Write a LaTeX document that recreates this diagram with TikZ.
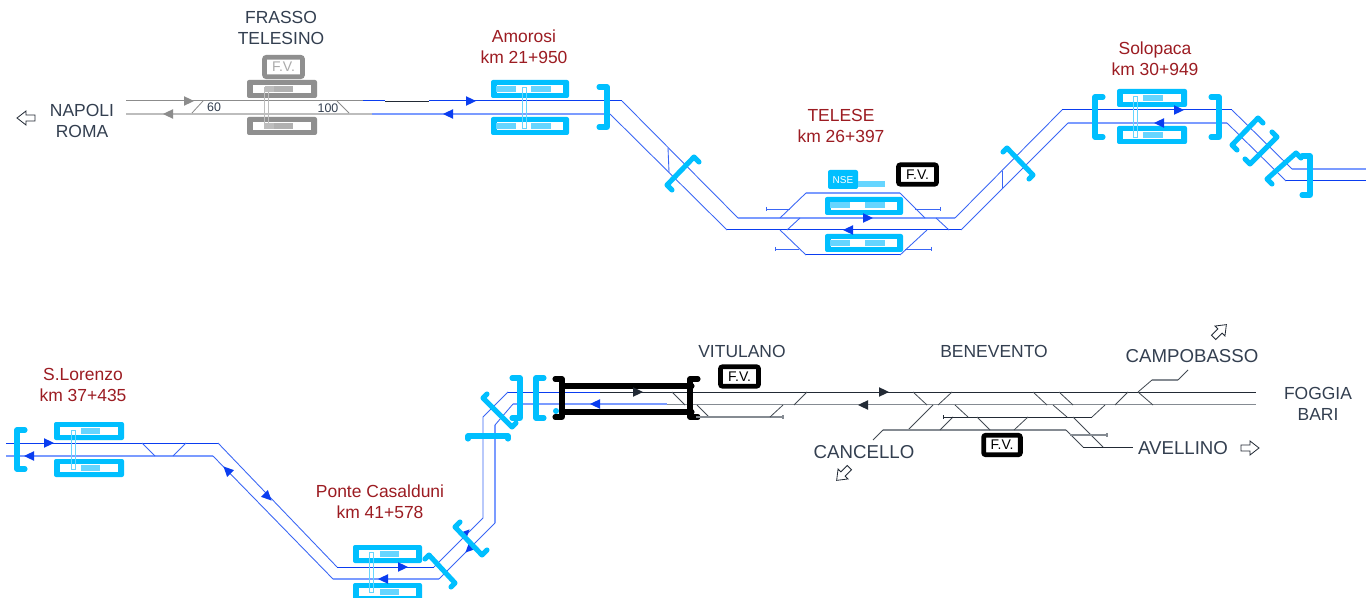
\documentclass[tikz,border=0pt]{standalone}
\usepackage{fontspec}
\setmainfont{Liberation Sans}
\definecolor{cy}{HTML}{00BFFF}
\definecolor{cyl}{HTML}{66D5FF}
\definecolor{dk}{HTML}{0A3DF0}
\definecolor{lt}{HTML}{7B9BFF}
\definecolor{thinb}{HTML}{3A66F5}
\definecolor{gr1}{HTML}{8C8C8C}
\definecolor{gr2}{HTML}{BDBDBD}
\definecolor{grb}{HTML}{8F8F8F}
\definecolor{blk}{HTML}{222A35}
\definecolor{blg}{HTML}{858B92}
\definecolor{txt}{HTML}{333F50}
\definecolor{red1}{HTML}{9C1C22}
\tikzset{
 lbl/.style={text=txt,align=center,font=\fontsize{13.1}{15.75}\selectfont,inner sep=0pt},
 lblb/.style={text=txt,align=center,font=\fontsize{14}{15.75}\selectfont,inner sep=0pt},
 km/.style={text=red1,align=center,font=\fontsize{13.1}{15.75}\selectfont,inner sep=0pt},
 small/.style={text=txt,font=\fontsize{9.3}{11}\selectfont,inner sep=0pt},
 tdk/.style={dk,line width=.75pt,line join=round},
 tlt/.style={lt,line width=1.3pt,line join=round},
 tthin/.style={color=thinb,line width=.65pt,line join=round},
 kdk/.style={blk,line width=.7pt,line join=round},
 kdi/.style={blk!85!white,line width=.6pt,line join=round},
 klt/.style={blg,line width=1.3pt,line join=round},
 brk/.style={cy,line width=3.8pt,line cap=round,line join=round},
 brb/.style={black,line width=3.8pt,line cap=round,line join=round},
 fvbox/.style={draw=black,line width=3.6pt,rounded corners=1.5pt,fill=white,text=black,font=\fontsize{10.5}{12}\selectfont,inner sep=0pt},
 hollow/.style={draw=blk,line width=.6pt,fill=white},
}
% block: colour, x1, x2, y1
\newcommand\blk[4]{\fill[#1,rounded corners=1.5pt] (#2,#4) rectangle (#3,#4+18);
 \fill[white] (#2+6,#4+5) rectangle (#3-6,#4+13);}
% rail pair
\newcommand\rails[4]{\draw[#1,line width=.7pt] (#2,#3) rectangle (#2+4,#4);}
% strip
\newcommand\strp[4]{\fill[#1] (#2,#4-2.8) rectangle (#3,#4+2.8);}
\newcommand\arw[4]{\fill[#4,shift={(#1,#2)},rotate=#3] (5,0)--(-5,4.8)--(-5,-4.8)--cycle;}
\newcommand\harw[3]{\draw[hollow,shift={(#1,#2)},rotate=#3] (-9,-3)--(0,-3)--(0,-7)--(9,0)--(0,7)--(0,3)--(-9,3)--cycle;}
\newcommand\brkt[7][brk]{\draw[#1] (#2+#6,#3+#7)--(#2,#3)--(#4,#5)--(#4+#6,#5+#7);}
\newcommand\stub[4]{\draw[#1,line width=.7pt] (#2,#4)--(#3,#4);\draw[#1,line width=.7pt] (#2,#4-2)--(#2,#4+2);}
\begin{document}
\begin{tikzpicture}[x=.75pt,y=-.75pt]
\useasboundingbox (0,0) rectangle (1369,598);
\fill[white] (0,0) rectangle (1369,598);

%% ---- FRASSO
\draw[gr1,line width=.75pt] (126,101)--(363,101);
\draw[gr2,line width=1.3pt] (126,114)--(372,114);
\draw[gr1,line width=.6pt] (203,101)--(192,113);
\draw[gr1,line width=.6pt] (337,101)--(349,113);
\arw{189}{101}{0}{gr1}
\arw{168}{114}{180}{gr1}
\blk{grb}{247}{317}{80}
\blk{grb}{247}{317}{117}
\strp{gr2}{265}{293}{89}\strp{grb!70}{274}{293}{89}
\strp{gr2}{265}{293}{126}\strp{grb!70}{274}{293}{126}
\rails{gr2}{264}{87}{128}
\node[draw=grb,line width=3.6pt,rounded corners=1.5pt,fill=white,text=gr2!90!black,minimum width=28.5pt,minimum height=14.5pt,font=\fontsize{10.5}{12}\selectfont,inner sep=0pt] (fvfrasso) at (283.5,67) {F.V.};
\node[small] (n60) at (214,107) {60};
\node[small] (n100) at (328,108) {100};

%% ---- Top line
\draw[tdk] (363,101)--(385,101);
\draw[kdk] (385,101)--(429,101);
\draw[tdk] (429,101)--(622,101);
\draw[tthin] (622,101)--(738,218);
\draw[tlt] (738,218)--(955,218);
\draw[tthin] (955,218)--(1062,110);
\draw[tdk] (1062,110)--(1232,110);
\draw[tthin] (1232,110)--(1292,169);
\draw[tlt] (1292,169)--(1366,169);
\draw[tlt] (372,114)--(610,114);
\draw[tthin] (610,114)--(727,230);
\draw[tdk] (727,230)--(961,230);
\draw[tthin] (961,230)--(1068,123);
\draw[tlt] (1068,123)--(1227,123);
\draw[tthin] (1227,123)--(1286,181);
\draw[tdk] (1286,181)--(1366,181);
\draw[tthin] (668,148)--(669,172);
\draw[tthin] (1002,171)--(1002,188);

%% Amorosi
\blk{cy}{491}{569}{80}
\blk{cy}{491}{569}{117}
\strp{cyl}{496}{551}{89}\strp{white}{516}{531}{89}
\strp{cyl}{496}{551}{126}\strp{white}{516}{531}{126}
\rails{cyl}{522}{87}{128}
\arw{471}{101}{0}{dk}
\arw{448}{114}{180}{dk}
\brkt{607}{87}{607}{127}{-8}{0}
\brkt{667}{185}{694}{157}{5}{5}
\brkt{1007}{148}{1033}{175}{-4}{4}

%% Telese
\draw[tthin] (780,218)--(806,193);
\draw[tlt] (806,193)--(900,193);
\draw[tthin] (900,193)--(925,218);
\draw[tthin] (780,230)--(806,255);
\draw[tdk] (806,255)--(900,255);
\draw[tthin] (900,255)--(927,230);
\draw[tthin] (800,218)--(787,230);
\draw[tthin] (936,218)--(949,230);
\stub{tthin}{766}{790}{209}
\stub{tthin}{940}{915}{209}
\stub{tthin}{775}{799}{249}
\stub{tthin}{931}{905}{249}
\blk{cy}{825}{903}{197}
\blk{cy}{825}{903}{234}
\strp{cyl}{830}{885}{205}\strp{white}{850}{865}{205}
\strp{cyl}{830}{885}{243}\strp{white}{850}{865}{243}
\arw{868}{218}{0}{dk}
\arw{848}{230}{180}{dk}
\fill[cy,rounded corners=1.5pt] (828,170) rectangle (858,189);
\node[text=white,font=\fontsize{7.5}{8}\selectfont,inner sep=0pt] (nse) at (843,180) {NSE};
\strp{cyl}{858}{885}{184}
\node[fvbox,minimum width=28.5pt,minimum height=14.5pt] (fvtelese) at (917.5,174.5) {F.V.};

%% Solopaca
\blk{cy}{1117}{1187}{89}
\blk{cy}{1117}{1187}{126}
\strp{cyl}{1134}{1163}{98}\strp{white}{1134}{1143}{98}
\strp{cyl}{1134}{1163}{135}\strp{white}{1134}{1143}{135}
\rails{cyl}{1133}{96}{137}
\arw{1179}{110}{0}{dk}
\arw{1159}{123}{180}{dk}
\brkt{1095}{97}{1095}{137}{8}{0}
\brkt{1219}{97}{1219}{137}{-8}{0}
\brkt{1232}{145}{1258}{118}{5}{5}
\brkt{1250}{164}{1277}{137}{-5}{-5}
\brkt{1267}{179}{1296}{153}{5}{5}
\brkt{1310}{156}{1310}{195}{-8}{0}

%% ---- Bottom-left line
\draw[tdk] (6,443)--(218,443);
\draw[tthin] (218,443)--(337,567);
\draw[tdk] (337,567)--(434,567);
\draw[tthin] (434,567)--(483,518)--(483,417)--(508,392);
\draw[tdk] (508,392)--(600,392);
\draw[tlt] (6,456)--(213,456);
\draw[tthin] (213,456)--(333,579);
\draw[tlt] (333,579)--(439,579);
\draw[tthin] (439,579)--(495,523);
\draw[tlt] (495,523)--(495,425);
\draw[tthin] (495,425)--(513,404);
\draw[tlt] (513,404)--(667,404);
\draw[tthin] (142,443)--(155,456);
\draw[tthin] (186,443)--(173,456);

%% S.Lorenzo
\blk{cy}{54}{124}{422}
\blk{cy}{54}{124}{459}
\strp{cyl}{71}{100}{431}\strp{white}{71}{81}{431}
\strp{cyl}{71}{100}{468}\strp{white}{71}{81}{468}
\rails{cyl}{71}{430}{469}
\arw{49}{443}{0}{dk}
\arw{29}{456}{180}{dk}
\brkt{17}{430}{17}{469}{8}{0}
\arw{227}{470}{135}{dk}
\arw{268}{497}{-45}{dk}

%% Ponte Casalduni
\blk{cy}{353}{422}{545}
\blk{cy}{353}{422}{583}
\strp{cyl}{371}{399}{554}\strp{white}{371}{380}{554}
\strp{cyl}{371}{399}{592}\strp{white}{371}{380}{592}
\rails{cyl}{369}{552}{592}
\arw{403}{567}{0}{dk}
\arw{383}{579}{180}{dk}
\arw{466}{533}{45}{dk}
\arw{469}{549}{225}{dk}
\brkt{429}{555}{455}{583}{-4}{4}
\brkt{455}{527}{482}{555}{5}{-5}
\brkt{483}{398}{512}{427}{4}{-4}
\brkt{468}{436}{508}{436}{0}{3}
\brkt{520}{378}{520}{418}{-8}{0}
\brkt{536}{378}{536}{418}{8}{0}

%% Vitulano gate
\draw[kdk] (600,392)--(1256,392);
\draw[klt] (667,404.5)--(1256,404.5);
\fill[cy] (556,411) circle (3);
\draw[brb] (562,386)--(692,386);
\draw[brb] (562,412)--(692,412);
\brkt[brb]{562}{379}{562}{417}{-7}{0}
\brkt[brb]{690}{379}{690}{417}{8}{0}
\arw{638}{392}{0}{blk}
\arw{595}{404}{180}{dk}
\arw{884}{392}{0}{blk}
\arw{863}{405}{180}{blk}

%% Benevento tracks
\draw[kdi] (672,392)--(685,405);
\draw[kdi] (697,405)--(709,417);
\draw[klt] (696,417)--(783,417);
\draw[klt] (783,415)--(783,419);
\draw[kdi] (770,417)--(783,405);
\draw[kdi] (794,405)--(807,392);
\draw[kdi] (913,392)--(927,405);
\draw[kdi] (952,392)--(938,405);
\draw[kdi] (933,405)--(908,430);
\draw[klt] (883,430)--(1066,430);
\draw[kdi] (883,430)--(873,440);
\draw[kdi] (940,430)--(953,417);
\draw[kdk] (943,417)--(1092,417);
\draw[kdi] (1092,417)--(1105,405);
\draw[kdk] (943,415)--(943,419);
\draw[kdi] (955,405)--(968,417);
\draw[kdi] (977,417)--(990,430);
\draw[kdi] (1028,417)--(1014,430);
\draw[kdi] (1033,392)--(1047,405);
\draw[kdi] (1059,392)--(1073,405);
\draw[kdi] (1053,405)--(1067,417);
\draw[kdi] (1073,417)--(1103,447);
\draw[kdi] (1066,430)--(1083,447);
\draw[kdk] (1083,447)--(1133,447);
\draw[kdi] (1128,392)--(1115,405);
\draw[kdi] (1138,392)--(1153,405);
\draw[kdi] (1138,392)--(1152,380);
\draw[klt] (1152,380)--(1178,380);
\draw[kdi] (1178,380)--(1188,370);
\draw[klt] (1070,435)--(1107,435);
\draw[klt] (1107,433)--(1107,437);

\node[fvbox,minimum width=28.5pt,minimum height=14.5pt] (fvvit) at (739.5,376.5) {F.V.};
\node[fvbox,minimum width=27.5pt,minimum height=14.5pt] (fvben) at (1002,445) {F.V.};

%% ---- Labels
\node[lbl] (frasso) at (281,27.5) {FRASSO\\TELESINO};
\node[lbl] (napoli) at (82,120.5) {NAPOLI\\ROMA};
\node[km] (amorosi) at (524,47) {Amorosi\\km 21+950};
\node[km] (telese) at (841,125.5) {TELESE\\km 26+397};
\node[km] (solopaca) at (1155,58.5) {Solopaca\\km 30+949};
\node[km] (lorenzo) at (83,384.5) {S.Lorenzo\\km 37+435};
\node[km] (ponte) at (380,501.5) {Ponte Casalduni\\km 41+578};
\node[lbl] (vitulano) at (742,351) {VITULANO};
\node[lbl] (benevento) at (994,351) {BENEVENTO};
\node[lblb] (campobasso) at (1192,356) {CAMPOBASSO};
\node[lbl] (foggia) at (1318,403.5) {FOGGIA\\BARI};
\node[lblb] (cancello) at (864,452) {CANCELLO};
\node[lblb] (avellino) at (1183,448) {AVELLINO};

\harw{26}{118}{180}
\harw{1250}{448}{0}
\harw{843}{474}{225}
\harw{1220}{331}{45}
\end{tikzpicture}
\end{document}
